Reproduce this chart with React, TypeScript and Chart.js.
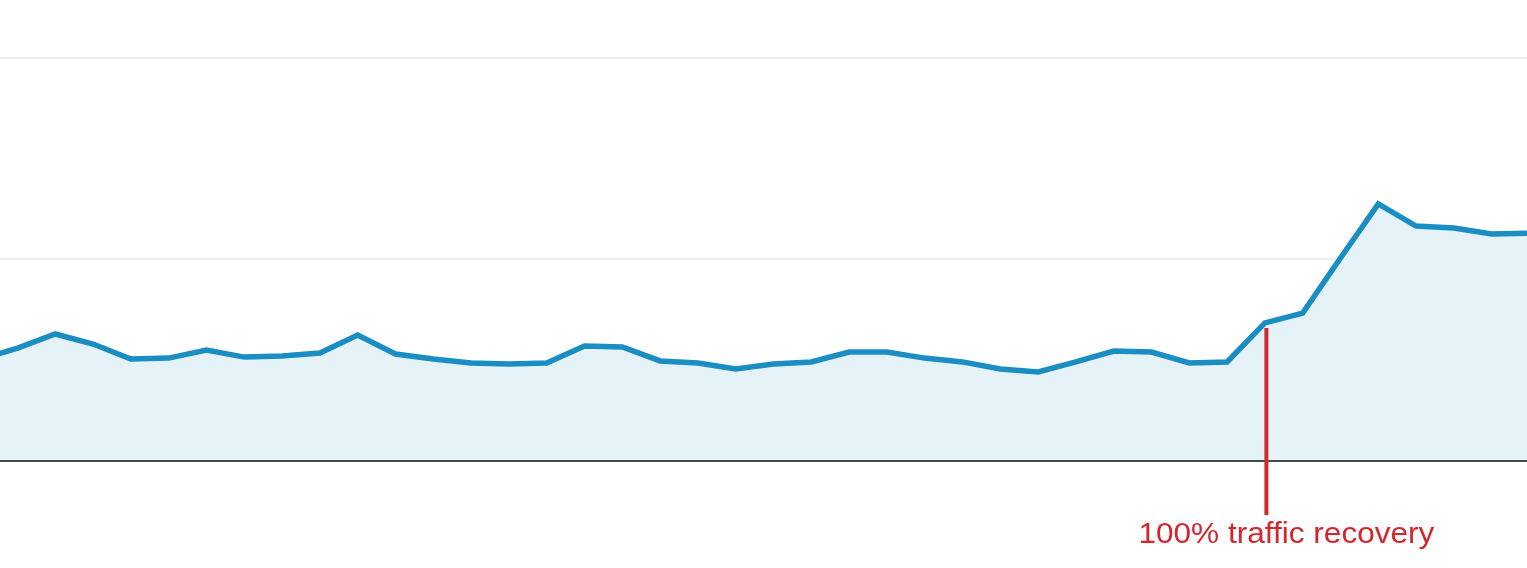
import React, { useEffect, useRef } from "react";
import { Chart, registerables } from "chart.js";

Chart.register(...registerables);

// Sessions per day (index -1 is the partially visible point left of the frame)
const sessions: number[] = [
  50, 55.7, 62.7, 57.7, 50.2, 50.7, 54.7, 51.2, 51.7, 53.2, 62.2,
  52.7, 50.2, 48.3, 47.8, 48.3, 56.7, 56.2, 49.3, 48.3, 45.3,
  47.8, 48.8, 53.7, 53.7, 50.7, 48.8, 45.3, 43.8, 48.8, 54.2,
  53.7, 48.3, 48.8, 68.2, 73.1, 100.5, 127.4, 116.4, 115.4, 112.4, 112.9,
];
const firstIndex = -1;
const yTicks: number[] = [0, 100, 200];
const annotationIndex = 33;
const annotationText = "100% traffic recovery";

export default function App() {
  const ref = useRef<HTMLCanvasElement | null>(null);

  useEffect(() => {
    if (!ref.current) return;
    const points = sessions.map((v, i) => ({ x: i + firstIndex, y: v }));

    const annotation = {
      id: "recoveryMarker",
      afterDatasetsDraw(chart: any) {
        const { ctx } = chart;
        const meta = chart.getDatasetMeta(0);
        const el = meta.data[annotationIndex - firstIndex];
        if (!el) return;
        const x = el.x + 1.5;
        ctx.save();
        ctx.strokeStyle = "#d3262e";
        ctx.lineWidth = 4;
        ctx.beginPath();
        ctx.moveTo(x, el.y + 5);
        ctx.lineTo(x, 515);
        ctx.stroke();
        ctx.fillStyle = "#d3262e";
        ctx.font = '29px "Liberation Sans", Arial, sans-serif';
        ctx.textAlign = "center";
        ctx.textBaseline = "alphabetic";
        const w = ctx.measureText(annotationText).width;
        const sx = 296 / w;
        ctx.translate(x + 20, 543);
        ctx.scale(sx, 1);
        ctx.fillText(annotationText, 0, 0);
        ctx.restore();
      },
    };

    const chart = new Chart(ref.current, {
      type: "line",
      data: {
        datasets: [
          {
            data: points,
            borderColor: "#1a8dc2",
            borderWidth: 5.5,
            backgroundColor: "#e5f2f8",
            fill: "origin",
            tension: 0,
            pointRadius: 0,
            pointHoverRadius: 0,
            borderJoinStyle: "miter",
          },
        ],
      },
      options: {
        animation: false,
        responsive: false,
        maintainAspectRatio: false,
        layout: { padding: { top: 58, bottom: 108, left: 0, right: 0 } },
        plugins: { legend: { display: false }, tooltip: { enabled: false } },
        scales: {
          x: {
            type: "linear",
            min: -0.463,
            max: 39.934,
            display: false,
          },
          y: {
            min: yTicks[0],
            max: yTicks[yTicks.length - 1],
            afterBuildTicks: (axis: any) => {
              axis.ticks = yTicks.map((v) => ({ value: v }));
            },
            ticks: { display: false },
            border: { display: false },
            grid: {
              drawTicks: false,
              color: (c: any) => (c.tick && c.tick.value === 0 ? "#45494d" : "#ececec"),
              lineWidth: (c: any) => (c.tick && c.tick.value === 0 ? 3 : 2),
            },
          },
        },
      },
      plugins: [annotation],
    });
    return () => chart.destroy();
  }, []);

  return (
    <div style={{ position: "fixed", left: 0, top: 0, width: 1527, height: 568, background: "#fff" }}>
      <canvas ref={ref} width={1527} height={568} style={{ display: "block" }} />
    </div>
  );
}
